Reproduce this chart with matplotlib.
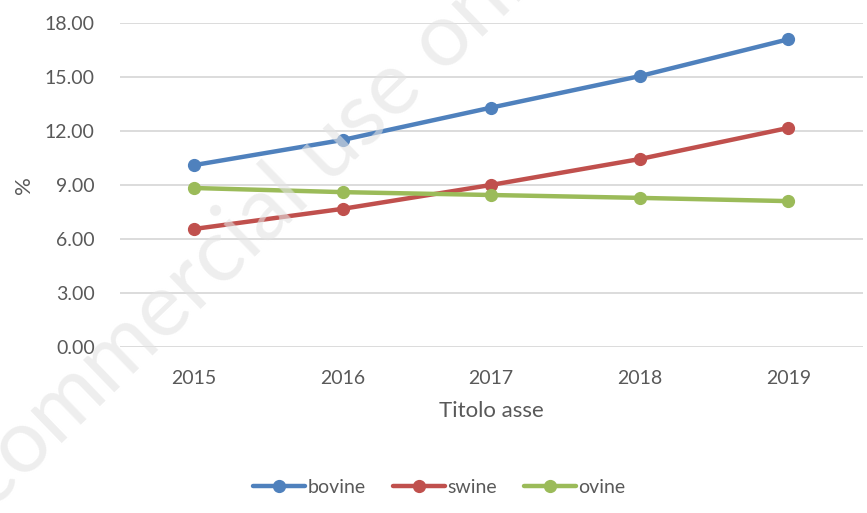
import matplotlib.pyplot as plt
import numpy as np

years = ["2015", "2016", "2017", "2018", "2019"]
bovine = [10.1, 11.5, 13.3, 15.05, 17.1]
swine = [6.55, 7.67, 9.0, 10.44, 12.17]
ovine = [8.83, 8.6, 8.44, 8.28, 8.1]

plt.rcParams['font.family'] = ['Lato', 'DejaVu Sans']

fig = plt.figure(figsize=(8.67, 5.13), dpi=100)
ax = fig.add_axes([0.138, 0.324, 0.857, 0.631])
ax.patch.set_alpha(0)

x = np.arange(len(years))
series = [("bovine", bovine, "#4F81BD"),
          ("swine", swine, "#C0504D"),
          ("ovine", ovine, "#9BBB59")]
for name, vals, col in series:
    ax.plot(x, vals, color=col, lw=3.2, marker="o", markersize=8.5, label=name,
            solid_capstyle="round", zorder=3)

ax.set_xlim(-0.5, len(years) - 0.5)
ax.set_ylim(0, 18)
ax.set_yticks(np.arange(0, 19, 3))
ax.set_yticklabels([f"{v:.2f}" for v in np.arange(0, 19, 3)])
ax.set_xticks(x)
ax.set_xticklabels(years)
ax.grid(axis="y", color="#d9d9d9", lw=1.3)
ax.set_axisbelow(True)
for s in ax.spines.values():
    s.set_visible(False)
ax.tick_params(length=0, colors="#595959", labelsize=14, pad=17)
ax.tick_params(axis="y", pad=18)

ax.set_xlabel("Titolo asse", color="#595959", fontsize=16, labelpad=10)
ax.set_ylabel("%", color="#595959", fontsize=16, labelpad=8)

leg = ax.legend(loc="upper center", bbox_to_anchor=(0.43, -0.355), ncol=3,
                frameon=False, fontsize=14, handlelength=2.7,
                handletextpad=0.1, columnspacing=1.4)
for t in leg.get_texts():
    t.set_color("#595959")

# faint watermark laid over the chart
fig.text(0.215, 0.44, "Non-commercial use only", fontsize=64, color="#e3e3e3",
         alpha=0.6, rotation=44, ha="center", va="center", zorder=10)

fig.savefig("out.png", dpi=100)
